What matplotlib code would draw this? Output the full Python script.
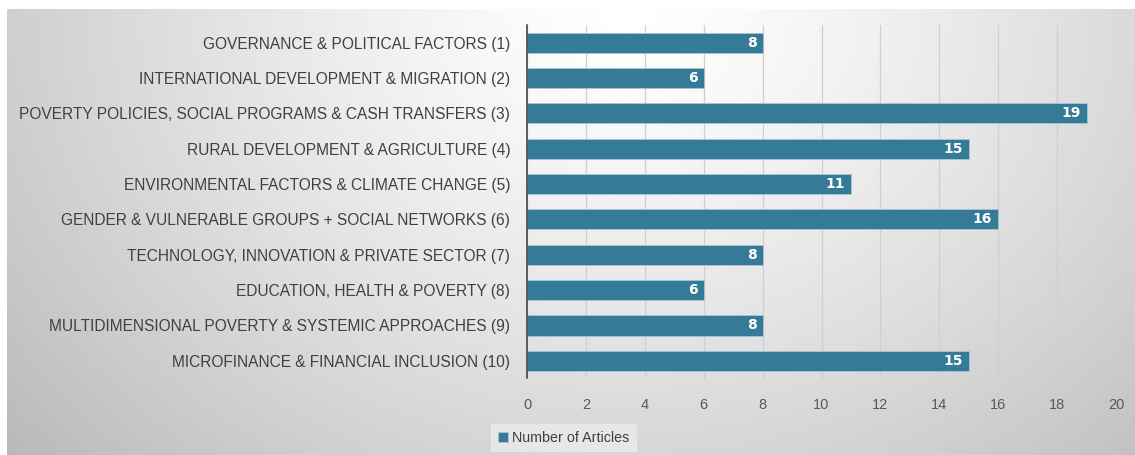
import matplotlib
matplotlib.use("Agg")
import matplotlib.pyplot as plt
import numpy as np

categories = [
    "GOVERNANCE & POLITICAL FACTORS (1)",
    "INTERNATIONAL DEVELOPMENT & MIGRATION (2)",
    "POVERTY POLICIES, SOCIAL PROGRAMS & CASH TRANSFERS (3)",
    "RURAL DEVELOPMENT & AGRICULTURE (4)",
    "ENVIRONMENTAL FACTORS & CLIMATE CHANGE (5)",
    "GENDER & VULNERABLE GROUPS + SOCIAL NETWORKS (6)",
    "TECHNOLOGY, INNOVATION & PRIVATE SECTOR (7)",
    "EDUCATION, HEALTH & POVERTY (8)",
    "MULTIDIMENSIONAL POVERTY & SYSTEMIC APPROACHES (9)",
    "MICROFINANCE & FINANCIAL INCLUSION (10)",
]
articles = [8, 6, 19, 15, 11, 16, 8, 6, 8, 15]
xticks = [0, 2, 4, 6, 8, 10, 12, 14, 16, 18, 20]

W, H = 1135, 455
fig = plt.figure(figsize=(W / 100, H / 100), dpi=100, facecolor="white")

# gradient background (white near top centre, grey towards the corners)
bg = fig.add_axes([7 / W, 0, 1 - 7 / W, (H - 9) / H])
gx, gy = np.meshgrid(np.linspace(0, 1, 400), np.linspace(0, 1, 200))
d = np.sqrt(((gx - 0.55) / 0.72) ** 2 + ((gy - 0.0) / 1.5) ** 2)
shade = 1.0 - 0.27 * np.clip(d, 0, 1) ** 1.3
bg.imshow(shade, cmap="gray", vmin=0, vmax=1, aspect="auto",
          extent=[0, 1, 1, 0], interpolation="bicubic")
bg.axis("off")

ax = fig.add_axes([527 / W, 1 - 378.5 / H, (1116 - 527) / W, (378.5 - 25) / H])
ax.patch.set_alpha(0)
y = np.arange(len(categories))
bars = ax.barh(y, articles, height=0.57, color="#357a96",
               edgecolor="#a9c6d3", linewidth=0.6, zorder=3)
ax.set_ylim(len(categories) - 0.5, -0.5)
ax.set_xlim(0, 20)
ax.set_xticks(xticks)
ax.set_yticks(y)
ax.set_yticklabels(categories, fontsize=11.2, color="#404040", family="Liberation Sans")
ax.tick_params(axis="x", length=0, pad=14, labelsize=10.5, labelcolor="#595959")
ax.tick_params(axis="y", length=0, pad=12)
for lab in ax.get_xticklabels():
    lab.set_family("Liberation Sans")
ax.grid(axis="x", color="#cfcfcf", linewidth=0.9, zorder=0)
for s in ["top", "right", "bottom"]:
    ax.spines[s].set_visible(False)
ax.spines["left"].set_color("#3a3a3a")
ax.spines["left"].set_linewidth(1.1)
ax.spines["left"].set_zorder(4)

for yi, v in zip(y, articles):
    ax.text(v - 0.2, yi, str(v), ha="right", va="center", color="white",
            fontsize=10, fontweight="bold", family="DejaVu Sans", zorder=5)

leg = ax.legend([bars], ["Number of Articles"], loc="upper left",
                bbox_to_anchor=(491 / W, 1 - 424 / H), bbox_transform=fig.transFigure,
                frameon=True, fancybox=False, handlelength=0.7, handleheight=0.7,
                handletextpad=0.3, borderpad=0.5, borderaxespad=0,
                prop={"family": "Liberation Sans", "size": 10.3})
leg.get_frame().set_facecolor("#f2f2f2")
leg.get_frame().set_edgecolor("none")
leg.get_frame().set_alpha(0.6)
for t in leg.get_texts():
    t.set_color("#404040")

fig.savefig("out.png", dpi=100, facecolor="white")
